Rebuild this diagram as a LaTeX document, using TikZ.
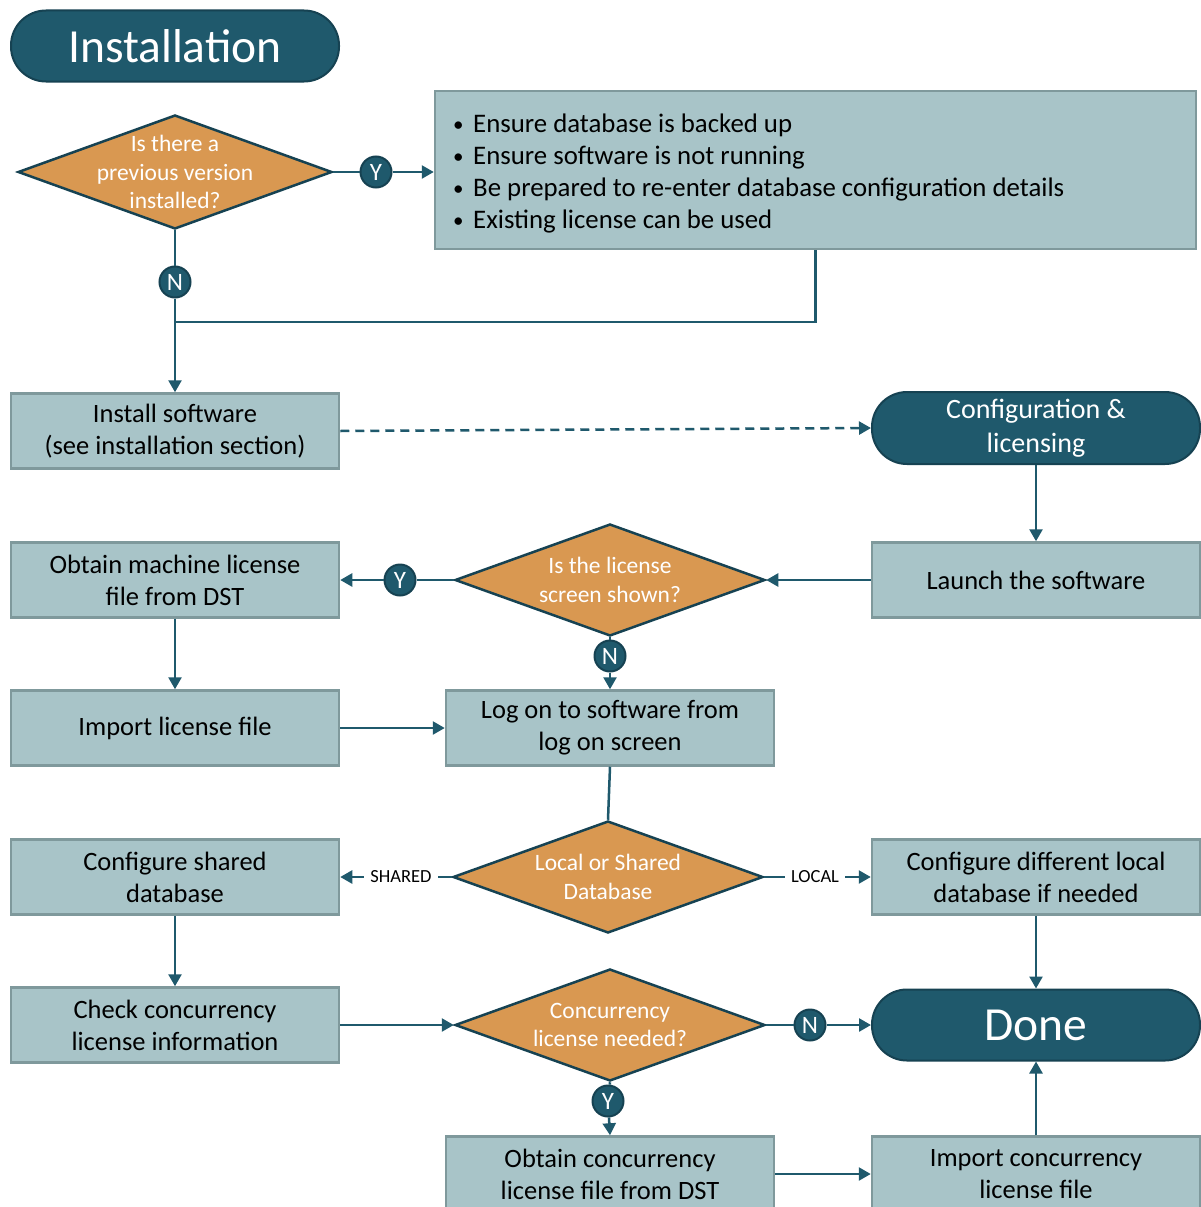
\documentclass[tikz,border=0pt]{standalone}
\usepackage{fontspec}
\setmainfont{Carlito}
\usetikzlibrary{shapes.geometric,arrows.meta}
\definecolor{teal1}{RGB}{31,89,108}
\definecolor{tealdark}{RGB}{22,66,82}
\definecolor{orng}{RGB}{217,152,81}
\definecolor{boxf}{RGB}{168,196,200}
\definecolor{boxd}{RGB}{127,153,156}
\newcommand{\bul}{\makebox[20pt][l]{\raisebox{1pt}{\fontsize{21}{21}\selectfont•}}}
\begin{document}
\begin{tikzpicture}[x=1pt,y=-1pt,
  procbox/.style={draw=boxd,fill=boxf,line width=2.5pt,minimum width=328,minimum height=75,inner sep=0pt,align=center,font=\fontsize{26.5}{32}\selectfont,text=black},
  term/.style={draw=tealdark,fill=teal1,line width=2pt,minimum width=328,minimum height=71,rounded corners=35pt,inner sep=0pt,align=center,text=white},
  dia/.style={diamond,draw=tealdark,fill=orng,line width=2.5pt,minimum width=310,minimum height=112,inner sep=0pt},
  dtext/.style={align=center,text=white,font=\fontsize{23.5}{28.5}\selectfont,inner sep=0pt},
  yn/.style={circle,draw=tealdark,fill=teal1,line width=2pt,minimum size=31,inner sep=0pt,text=white,font=\fontsize{25}{26}\selectfont},
  lbl/.style={fill=white,inner sep=6pt,font=\fontsize{18.5}{20}\selectfont,text=black},
  conn/.style={draw=teal1,line width=2.5pt},
  arr/.style={conn,-{Triangle[length=12pt,width=13pt]}}
]
\useasboundingbox (0,0) rectangle (1201,1207);
\clip (0,0) rectangle (1201,1207);
\fill[white] (0,0) rectangle (1201,1207);

% nodes
\node[term,font=\fontsize{47.5}{54}\selectfont] (inst) at (175,46) {Installation};
\node[dia,minimum width=314,minimum height=114,label={[dtext]center:Is there a\\previous version\\installed?}] (d1) at (175,172) {};
\node[procbox,minimum width=761,minimum height=158] (bul) at (815.5,170) {};
\node[anchor=west,align=left,inner sep=0pt,font=\fontsize{26.8}{32}\selectfont,text=black] (bultext) at (453,173)
  {\bul Ensure database is backed up\\
   \bul Ensure software is not running\\
   \bul Be prepared to re-enter database configuration details\\
   \bul Existing license can be used};
\node[yn] (y1) at (376,172) {Y};
\node[yn] (n1) at (175,282) {N};
\coordinate (j1) at (175,322);

\node[procbox] (isw) at (175,431) {Install software\\(see installation section)};
\node[term,minimum height=72,font=\fontsize{28}{34}\selectfont] (cfg) at (1036,428) {Configuration \&\\licensing};
\node[procbox] (launch) at (1036,580) {Launch the software};
\node[dia,label={[dtext]center:Is the license\\screen shown?}] (d2) at (610,580) {};
\node[yn] (y2) at (400,580) {Y};
\node[procbox] (obtm) at (175,580) {Obtain machine license\\file from DST};
\node[yn] (n2) at (610,656) {N};
\node[procbox] (logon) at (610,728) {Log on to software from\\log on screen};
\node[procbox] (implic) at (175,728) {Import license file};
\node[dia,label={[dtext]center:Local or Shared\\Database}] (d3) at (608,877) {};
\node[lbl] (shared) at (401,877) {SHARED};
\node[lbl] (local) at (815,877) {LOCAL};
\node[procbox] (cshared) at (175,877) {Configure shared\\database};
\node[procbox] (clocal) at (1036,877) {Configure different local\\database if needed};
\node[procbox] (check) at (175,1025) {Check concurrency\\license information};
\node[dia,label={[dtext]center:Concurrency\\license needed?}] (d4) at (610,1025) {};
\node[yn] (n4) at (810,1025) {N};
\node[term,font=\fontsize{47.5}{54}\selectfont] (done) at (1036,1025) {Done};
\node[yn] (y4) at (608,1101) {Y};
\node[procbox] (oconc) at (610,1174) {Obtain concurrency\\license file from DST};
\node[procbox] (iconc) at (1036,1174) {Import concurrency\\license file};

% connectors
\draw[conn] (d1.east) -- (y1);
\draw[arr] (y1) -- (bul.west |- y1);
\draw[conn] (d1.south) -- (n1);
\draw[arr] (n1) -- (isw.north);
\draw[conn] (bul.south) |- (j1);
\draw[arr,dashed,dash pattern=on 9pt off 6pt] (isw.east) -- (cfg.west);
\draw[arr] (cfg.south) -- (launch.north);
\draw[arr] (launch.west) -- (d2.east);
\draw[conn] (d2.west) -- (y2);
\draw[arr] (y2) -- (obtm.east);
\draw[conn] (d2.south) -- (n2);
\draw[arr] (n2) -- (logon.north);
\draw[arr] (obtm.south) -- (implic.north);
\draw[arr] (implic.east) -- (logon.west);
\draw[conn] (logon.south) -- (d3.north);
\draw[conn] (d3.west) -- (shared);
\draw[arr] (shared) -- (cshared.east);
\draw[conn] (d3.east) -- (local);
\draw[arr] (local) -- (clocal.west);
\draw[arr] (cshared.south) -- (check.north);
\draw[arr] (clocal.south) -- (done.north);
\draw[arr] (check.east) -- (d4.west);
\draw[conn] (d4.east) -- (n4);
\draw[arr] (n4) -- (done.west);
\draw[conn] (d4.south) -- (y4);
\draw[arr] (y4) -- (oconc.north);
\draw[arr] (oconc.east) -- (iconc.west);
\draw[arr] (iconc.north) -- (done.south);
% labels on top of their lines
\node[lbl] at (shared) {SHARED};
\node[lbl] at (local) {LOCAL};
\end{tikzpicture}
\end{document}
